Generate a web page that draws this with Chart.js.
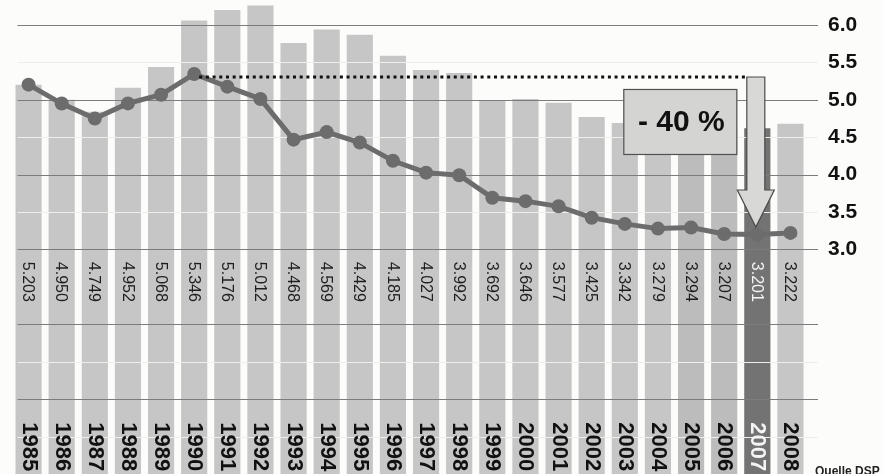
<!DOCTYPE html>
<html>
<head>
<meta charset="utf-8">
<script src="https://cdn.jsdelivr.net/npm/chart.js@4.4.1/dist/chart.umd.min.js"></script>
<style>
  html, body { margin: 0; padding: 0; background: #fcfcfa; }
  #wrap { width: 884px; height: 474px; position: relative; }
</style>
</head>
<body>
<div id="wrap"><canvas id="myChart" width="884" height="474"></canvas></div>
<script>
const years = ['1985', '1986', '1987', '1988', '1989', '1990', '1991', '1992', '1993', '1994', '1995', '1996',
  '1997', '1998', '1999', '2000', '2001', '2002', '2003', '2004', '2005', '2006', '2007', '2008'];
// line values (labelled in the bars, e.g. 5.203)
const rates = [5.203, 4.950, 4.749, 4.952, 5.068, 5.346, 5.176, 5.012, 4.468, 4.569, 4.429, 4.185,
  4.027, 3.992, 3.692, 3.646, 3.577, 3.425, 3.342, 3.279, 3.294, 3.207, 3.201, 3.222];
// bar heights
const barValues = [5.20, 5.00, 4.84, 5.16, 5.44, 6.06, 6.20, 6.26, 5.76, 5.94, 5.87, 5.59,
  5.40, 5.36, 4.99, 5.01, 4.96, 4.77, 4.69, 4.65, 4.62, 4.60, 4.62, 4.68];
const tickValues = [3.0, 3.5, 4.0, 4.5, 5.0, 5.5, 6.0];
const startYear = '1990';
const endYear = '2007';
const shadedYears = ['2005', '2006'];
const changeText = '- 40 %';
const sourceText = 'Quelle DSP';

const FONT = '"Liberation Sans", Arial, sans-serif';

const barColors = years.map(y => y === endYear ? '#737373' : (shadedYears.includes(y) ? '#bcbcbc' : '#c6c6c6'));

const ctx = document.getElementById('myChart');

// grid: dark lines on whole values, white lines on half values (over bars, under the line)
const gridPlugin = {
  id: 'gridOverBars',
  beforeDraw(chart) {
    const c = chart.ctx;
    c.save();
    c.fillStyle = '#fcfcfa';
    c.fillRect(0, 0, chart.width, chart.height);
    c.restore();
  },
  afterDatasetDraw(chart, args) {
    if (args.index !== 0) return;
    const c = chart.ctx;
    const yS = chart.scales.y;
    const area = chart.chartArea;
    c.save();
    for (let v = 0.5; v <= 6; v += 0.5) {
      const y = Math.round(yS.getPixelForValue(v)) + 0.5;
      if (v % 1 === 0) {
        c.strokeStyle = '#7c7c7c';
        c.lineWidth = 1.2;
      } else {
        if (v === 2.5) continue;
        c.strokeStyle = '#eeeeec';
        c.lineWidth = 1;
      }
      c.beginPath();
      c.moveTo(area.left + 5.5, y);
      c.lineTo(area.right + 11, y);
      c.stroke();
    }
    c.restore();
  },
  afterDatasetsDraw(chart) {
    const c = chart.ctx;
    const yS = chart.scales.y;
    const bars = chart.getDatasetMeta(0).data;
    const pts = chart.getDatasetMeta(1).data;

    // rotated value labels and year labels inside the bars
    c.save();
    bars.forEach((bar, i) => {
      const isEnd = years[i] === endYear;
      c.save();
      c.translate(bar.x - 1, yS.getPixelForValue(2.835));
      c.rotate(Math.PI / 2);
      c.textAlign = 'left';
      c.textBaseline = 'middle';
      c.font = '16px ' + FONT;
      c.fillStyle = isEnd ? '#f4f4f4' : '#1e1e1e';
      c.fillText(rates[i].toFixed(3), 0, 0);
      c.restore();

      c.save();
      c.translate(bar.x, yS.getPixelForValue(0.69));
      c.rotate(Math.PI / 2);
      c.textAlign = 'left';
      c.textBaseline = 'middle';
      c.font = 'bold 22px ' + FONT;
      c.fillStyle = isEnd ? '#f4f4f4' : '#111';
      c.fillText(years[i], 0, 0);
      c.restore();
    });
    c.restore();

    // dotted reference line and arrow
    const iStart = years.indexOf(startYear);
    const iEnd = years.indexOf(endYear);
    const ax = bars[iEnd].x - 1.5;
    const yTop = yS.getPixelForValue(5.305);
    const yHead = yS.getPixelForValue(3.795);
    const yTip = yS.getPixelForValue(3.30);

    c.save();
    c.strokeStyle = '#111';
    c.lineWidth = 3;
    c.setLineDash([3, 3.7]);
    c.beginPath();
    c.moveTo(pts[iStart].x + 5, yTop);
    c.lineTo(ax - 9, yTop);
    c.stroke();
    c.restore();

    c.save();
    c.fillStyle = '#d8d8d6';
    c.strokeStyle = '#4a4a4a';
    c.lineWidth = 1.2;
    c.beginPath();
    c.moveTo(ax - 9, yTop);
    c.lineTo(ax + 9, yTop);
    c.lineTo(ax + 9, yHead);
    c.lineTo(ax + 18.5, yHead);
    c.lineTo(ax, yTip);
    c.lineTo(ax - 18.5, yHead);
    c.lineTo(ax - 9, yHead);
    c.closePath();
    c.fill();
    c.stroke();

    // box with the change
    const bRight = ax - 18.5;
    const bLeft = bRight - 114;
    const bTop = yS.getPixelForValue(5.145);
    const bBottom = yS.getPixelForValue(4.263);
    c.fillStyle = '#d4d4d2';
    c.strokeStyle = '#505050';
    c.fillRect(bLeft, bTop, bRight - bLeft, bBottom - bTop);
    c.strokeRect(bLeft + 0.5, bTop + 0.5, bRight - bLeft - 1, bBottom - bTop - 1);
    c.fillStyle = '#111';
    c.font = 'bold 30px ' + FONT;
    c.textAlign = 'center';
    c.textBaseline = 'middle';
    c.fillText(changeText, (bLeft + bRight) / 2 + 1, (bTop + bBottom) / 2 + 1);

    // source
    c.font = 'bold 12px ' + FONT;
    c.textAlign = 'left';
    c.textBaseline = 'top';
    c.fillStyle = '#222';
    c.fillText(sourceText, 815, 466);
    c.restore();
  }
};

const myChart = new Chart(ctx, {
  type: 'bar',
  data: {
    labels: years,
    datasets: [{
      type: 'bar',
      data: barValues,
      backgroundColor: barColors,
      barPercentage: 0.79,
      categoryPercentage: 1,
      order: 2
    }, {
      type: 'line',
      data: rates,
      borderColor: '#6c6c6c',
      borderWidth: 5,
      pointRadius: 7,
      pointBackgroundColor: '#6c6c6c',
      pointBorderWidth: 0,
      tension: 0,
      order: 1
    }]
  },
  options: {
    responsive: false,
    animation: false,
    devicePixelRatio: 1,
    layout: { autoPadding: false, padding: { left: 12, right: 0, top: 0, bottom: 0 } },
    plugins: { legend: { display: false }, tooltip: { enabled: false } },
    scales: {
      x: { display: false },
      y: {
        position: 'right',
        min: 0,
        max: 6.334,
        grid: { display: false, drawTicks: false },
        border: { display: false },
        afterBuildTicks: scale => { scale.ticks = tickValues.map(v => ({ value: v })); },
        afterFit: scale => { scale.width = 77; scale.paddingTop = 0; scale.paddingBottom = 0; },
        ticks: {
          padding: 21,
          color: '#111',
          font: { family: FONT, size: 21, weight: 'bold' },
          callback: v => Number(v).toFixed(1)
        }
      }
    }
  },
  plugins: [gridPlugin]
});
</script>
</body>
</html>
